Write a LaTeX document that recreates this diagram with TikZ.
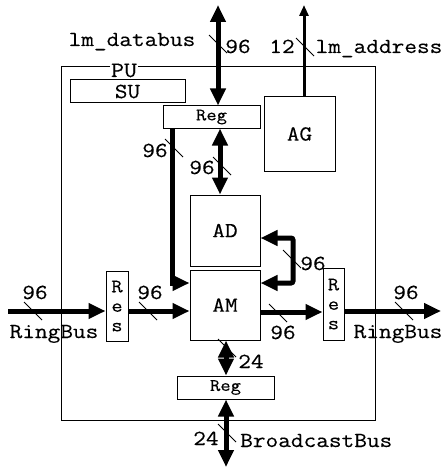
\documentclass[tikz,border=0pt]{standalone}
\usepackage{fontspec}
\newfontfamily\courfont[FakeStretch=1.15, FakeBold=0.3]{Latin Modern Mono}
\usetikzlibrary{arrows.meta, positioning}

\newcommand{\busfont}{\courfont\fontsize{21.4}{22}\selectfont}
\newcommand{\regfont}{\courfont\fontsize{17.5}{19}\selectfont}

\begin{document}
\begin{tikzpicture}[x=1pt, y=-1pt,
    blk/.style={rectangle, draw, line width=1pt, inner sep=0pt, align=center,
                font=\busfont},
    frame/.style={draw, line width=0.9pt},
    bus/.style={line width=5pt, -{Triangle[length=17pt, width=15pt]}},
    bibus/.style={line width=5pt,
                  {Triangle[length=17pt, width=15pt]}-{Triangle[length=17pt, width=15pt]}},
    abus/.style={line width=3pt, -{Triangle[length=11pt, width=9pt]}},
    lbl/.style={font=\busfont, inner sep=0pt},
    tick/.pic={\draw[line width=1pt] (-9,-9) -- (9,9);}
  ]
    \useasboundingbox (0,0) rectangle (446,468);

    % processing unit frame
    \draw[frame] (61,66) rectangle (375,420);
    \node[fill=white, inner sep=0.5pt, anchor=base, font=\courfont\fontsize{22}{22}\selectfont]
      (pu) at (124,77) {PU};

    % blocks
    \node[blk, minimum width=115pt, minimum height=23pt] (su) at (127.5,91.5) {SU};
    \node[blk, minimum width=97pt, minimum height=22pt, font=\regfont] (treg) at (211.5,117) {Reg};
    \node[blk, minimum width=71pt, minimum height=74pt] (ag) at (299.5,134) {AG};
    \node[blk, minimum width=70pt, minimum height=71pt] (ad) at (225,230.5) {AD};
    \node[blk, minimum width=70pt, minimum height=70pt] (am) at (225,305) {AM};
    \node[blk, minimum width=22pt, minimum height=70pt,
          font=\courfont\fontsize{19}{19.5}\selectfont] (lres) at (117,306) {R\\e\\s};
    \node[blk, minimum width=21pt, minimum height=72pt,
          font=\courfont\fontsize{19}{19.5}\selectfont] (rres) at (333.5,304) {R\\e\\s};
    \node[blk, minimum width=97pt, minimum height=23pt, font=\regfont] (breg) at (225.5,387.5) {Reg};

    % free ends and bends
    \coordinate (dbus) at (218,5);
    \coordinate (abus) at (304,5);
    \coordinate (lbend) at (172,283);
    \coordinate (vmid) at (220,0);
    \coordinate (loopa) at (293,238);
    \coordinate (loopb) at (293,283);
    \coordinate (rin) at (8,311);
    \coordinate (rmid) at (0,312);
    \coordinate (rout) at (441,311);
    \coordinate (bcast) at (226,467);

    % connectors
    \draw[bibus] (dbus) -- (dbus |- treg.north);
    \draw[abus] (abus |- ag.north) -- (abus);
    \draw[bus] (treg.south -| lbend) -- (lbend) -- (am.west |- lbend);
    \draw[bibus] (treg.south -| vmid) -- (ad.north -| vmid);
    \draw[bibus, rounded corners=2pt] (ad.east |- loopa) -- (loopa) -- (loopb) -- (am.east |- loopb);
    \draw[bus] (rin) -- (lres.west |- rin);
    \draw[bus] (lres.east |- rin) -- (am.west |- rin);
    \draw[bus] (am.east |- rmid) -- (rres.west |- rmid);
    \draw[bus] (rres.east |- rout) -- (rout);
    \draw[bibus] (am.south -| bcast) -- (breg.north -| bcast);
    \draw[bibus] (breg.south -| bcast) -- (bcast);

    % bus widths
    \pic at (218,44) {tick};
    \pic at (305,47) {tick};
    \pic at (174,148) {tick};
    \pic at (222,166) {tick};
    \pic at (292,259) {tick};
    \pic at (33,311) {tick};
    \pic at (148,311) {tick};
    \pic at (278,313) {tick};
    \pic at (404,311) {tick};
    \pic at (227,348) {tick};
    \pic at (227,433) {tick};

    % labels
    \node[lbl, anchor=base] (ldb) at (132,46) {lm\_databus};
    \node[lbl, anchor=base] (ldbw) at (238,53) {96};
    \node[lbl, anchor=base] (ladw) at (282,53) {12};
    \node[lbl, anchor=base] (lad) at (379,53) {lm\_address};
    \node[lbl, anchor=base] (ltw) at (155,157) {96};
    \node[lbl, anchor=base] (lvw) at (202,174) {96};
    \node[lbl, anchor=base] (llw) at (313,270) {96};
    \node[lbl, anchor=base] (lrin) at (35,299) {96};
    \node[lbl, anchor=base] (lrinb) at (54,338) {RingBus};
    \node[lbl, anchor=base] (lresw) at (150,299) {96};
    \node[lbl, anchor=base] (lamw) at (283,339) {96};
    \node[lbl, anchor=base] (lrout) at (406,299) {96};
    \node[lbl, anchor=base] (lroutb) at (398,338) {RingBus};
    \node[lbl, anchor=base] (lbw) at (251,368) {24};
    \node[lbl, anchor=base] (lbcw) at (206,445) {24};
    \node[lbl, anchor=base west] (lbc) at (240,447) {BroadcastBus};
\end{tikzpicture}
\end{document}
